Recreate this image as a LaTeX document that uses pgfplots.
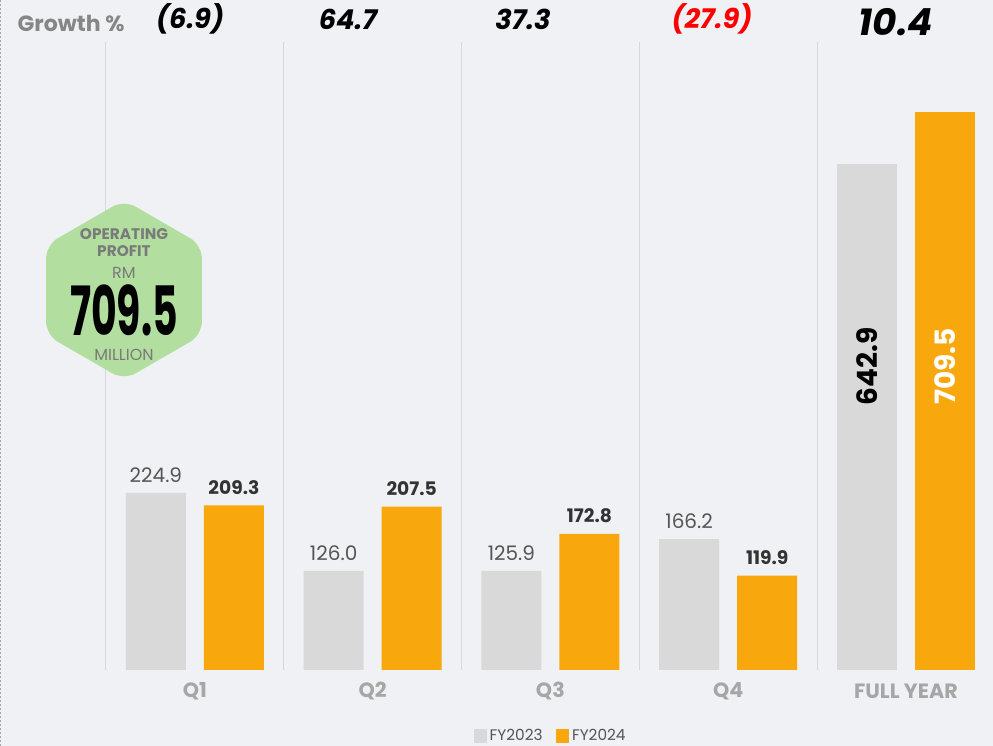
\documentclass[border=0pt]{standalone}
\usepackage{fontspec}
\setmainfont{Poppins}
\usepackage{graphicx}
\usepackage{pgfplots}
\usepackage{pgfplotstable}
\pgfplotsset{compat=1.18}
\definecolor{bg}{HTML}{EFF1F4}
\definecolor{gbar}{HTML}{D9D9D9}
\definecolor{obar}{HTML}{F8A80C}
\definecolor{hexg}{HTML}{B2DE9F}
\definecolor{sep}{HTML}{D5D7DA}
\definecolor{tickc}{HTML}{A6A6A6}
\definecolor{lblg}{HTML}{555555}
\definecolor{lblo}{HTML}{333333}
\definecolor{hexgray}{HTML}{7A7A7A}

\pgfplotstableread{
x y
0 224.9
1 126.0
2 125.9
3 166.2
}\fyA
\pgfplotstableread{
x y
0 209.3
1 207.5
2 172.8
3 119.9
}\fyB

\begin{document}
\begin{tikzpicture}
\useasboundingbox (-79.5pt,-57pt) rectangle (665.25pt,502.5pt);
\fill[bg] (-79.5pt,-57pt) rectangle (665.25pt,502.5pt);
\draw[gray!70, line width=0.6pt, dash pattern=on 1.5pt off 1.5pt] (-79.2pt,-57pt) -- (-79.2pt,502.5pt);
\begin{axis}[
  scale only axis, width=665.25pt, height=502.5pt,
  xmin=-0.5, xmax=4.49, ymin=0, ymax=851.3,
  clip=false,
  axis line style={draw=none}, tick style={draw=none},
  ytick=\empty,
  xtick={0,1,2,3,4}, xticklabels={Q1,Q2,Q3,Q4,FULL YEAR},
  xticklabel style={font=\bfseries\fontsize{15.5}{17}\selectfont, text=tickc, anchor=center, yshift=-15.75pt},
  bar width=45pt,
  legend style={at={(0.5017,0)}, anchor=center, yshift=-49.5pt, draw=none, fill=none,
    font=\fontsize{11.5}{13}\selectfont, text=lblg, legend columns=2,
    /tikz/every even column/.append style={column sep=8pt}},
  legend cell align=left,
  /pgf/number format/fixed, /pgf/number format/fixed zerofill,
  /pgf/number format/precision=1, /pgf/number format/assume math mode=true,
]
% separators
\foreach \s in {-0.5,0.5,1.5,2.5,3.5} {
  \edef\tmp{\noexpand\draw[sep, line width=0.75pt] (axis cs:\s,0) -- (axis cs:\s,798);}\tmp
}
\addplot[ybar, fill=gbar, draw=none, bar shift=-29.25pt,
  legend image code/.code={\fill[gbar] (0pt,-5pt) rectangle (10pt,5pt);},
  nodes near coords,
  nodes near coords style={anchor=center, xshift=-29.25pt, yshift=13.5pt, font=\fontsize{15}{16}\selectfont, text=lblg}]
  table[x=x,y=y] {\fyA};
\addlegendentry{FY2023}
\addplot[ybar, fill=obar, draw=none, bar shift=29.25pt,
  legend image code/.code={\fill[obar] (0pt,-5pt) rectangle (10pt,5pt);},
  nodes near coords,
  nodes near coords style={anchor=center, xshift=29.25pt, yshift=13.5pt, font=\bfseries\fontsize{14}{16}\selectfont, text=lblo}]
  table[x=x,y=y] {\fyB};
\addlegendentry{FY2024}
\addplot[ybar, fill=gbar, draw=none, bar shift=-29.25pt, forget plot] coordinates {(4,642.9)};
\addplot[ybar, fill=obar, draw=none, bar shift=29.25pt, forget plot] coordinates {(4,709.5)};
\node[rotate=90, font=\bfseries\fontsize{21}{22}\selectfont, text=black] at ([xshift=-29.25pt]axis cs:4,386) {642.9};
\node[rotate=90, font=\bfseries\fontsize{21}{22}\selectfont, text=white] at ([xshift=29.25pt]axis cs:4,386) {709.5};
% growth labels
\node[font=\bfseries\itshape\fontsize{20.5}{22}\selectfont] at (axis cs:-0.027,827) {(6.9)};
\node[font=\bfseries\itshape\fontsize{20.5}{22}\selectfont] at (axis cs:0.861,827) {64.7};
\node[font=\bfseries\itshape\fontsize{20.5}{22}\selectfont] at (axis cs:1.846,827) {37.3};
\node[font=\bfseries\itshape\fontsize{20.5}{22}\selectfont, text=red] at (axis cs:2.909,827) {(27.9)};
\node[font=\bfseries\itshape\fontsize{28}{30}\selectfont] at (axis cs:3.944,823) {10.4};
\end{axis}
\node[font=\bfseries\fontsize{16.5}{18}\selectfont, text=gray!95] at (-26.25pt,485.25pt) {Growth \%};
\begin{scope}[shift={(13.5pt,285pt)}]
\fill[hexg, rounded corners=10pt] (90:67.5pt) -- (150:67.5pt) -- (210:67.5pt) -- (270:67.5pt) -- (330:67.5pt) -- (30:67.5pt) -- cycle;
\end{scope}
\node[font=\bfseries\fontsize{11.5}{12}\selectfont, text=hexgray] at (13.5pt,327pt) {OPERATING};
\node[font=\bfseries\fontsize{11.5}{12}\selectfont, text=hexgray] at (13.5pt,314.25pt) {PROFIT};
\node[font=\fontsize{12}{13}\selectfont, text=hexgray] at (13.5pt,297.75pt) {RM};
\node[font=\fontsize{12}{13}\selectfont, text=hexgray] at (13.5pt,236pt) {MILLION};
\node[inner sep=0pt] at (13.5pt,269.5pt) {\scalebox{0.58}[1]{\fontsize{51}{51}\selectfont\bfseries 709.5}};
\end{tikzpicture}
\end{document}
